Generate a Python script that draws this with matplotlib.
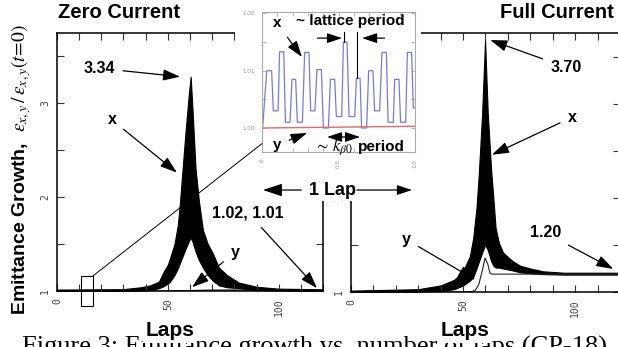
import matplotlib.pyplot as plt
from matplotlib.patches import Rectangle, ConnectionPatch
from matplotlib.ticker import MultipleLocator

plt.rcParams['font.family'] = ['Liberation Sans', 'DejaVu Sans']
plt.rcParams['mathtext.fontset'] = 'stix'

# ---- data ----
# zero current: envelope of the x emittance (fast lattice oscillation) + y emittance
zc_laps = [0, 30, 38, 42, 46, 48, 50, 51, 53, 54.5, 55.5, 56.5, 58, 59.5, 60.3,
           61.2, 62.5, 64, 65.8, 68, 70.3, 73, 76.6, 82, 90, 100, 120]
zc_x_hi = [1.015, 1.02, 1.04, 1.06, 1.10, 1.2, 1.28, 1.35, 1.5, 1.7, 1.95, 2.25, 2.7, 3.1, 3.28,
           2.9, 2.3, 1.96, 1.65, 1.5, 1.4, 1.25, 1.17, 1.09, 1.045, 1.025, 1.018]
zc_x_lo = [1.0, 1.0, 1.004, 1.01, 1.03, 1.05, 1.08, 1.1, 1.17, 1.24, 1.3, 1.36, 1.45, 1.53, 1.57,
           1.52, 1.42, 1.33, 1.25, 1.17, 1.11, 1.06, 1.04, 1.03, 1.01, 1.005, 1.0]
zc_y_laps = [0, 50, 60, 70, 120]
zc_y = [1.0, 1.0, 1.005, 1.01, 1.01]

# full current
fc_laps = [0, 30, 40, 46, 50, 53, 54.5, 56, 57, 58.5, 59.8, 61, 62.5, 63.5, 64.5,
           66, 67.8, 72, 75.4, 80, 85.7, 95, 120]
fc_x_hi = [1.015, 1.03, 1.07, 1.13, 1.22, 1.38, 1.57, 1.9, 2.25, 2.9, 3.68, 2.9, 2.3, 2.0, 1.68,
           1.52, 1.42, 1.33, 1.28, 1.25, 1.22, 1.205, 1.205]
fc_x_lo = [1.0, 1.004, 1.01, 1.03, 1.07, 1.12, 1.16, 1.25, 1.32, 1.42, 1.5, 1.45, 1.33, 1.28, 1.26,
           1.26, 1.25, 1.23, 1.21, 1.2, 1.19, 1.185, 1.185]
fc_y_laps = [0, 50, 54, 55.5, 57, 58.5, 59.8, 61, 62, 63, 70, 120]
fc_y = [1.0, 1.0, 1.005, 1.02, 1.08, 1.22, 1.36, 1.3, 1.2, 1.19, 1.19, 1.19]

# inset: first lap, x emittance (blue) and y emittance (red)
lap1_t = [0.0, 0.004, 0.031, 0.063, 0.074, 0.105, 0.115, 0.142, 0.153, 0.183,
          0.196, 0.220, 0.231, 0.264, 0.279, 0.307, 0.318, 0.346, 0.359, 0.388,
          0.401, 0.434, 0.447, 0.475, 0.486, 0.521, 0.532, 0.556, 0.569, 0.606,
          0.617, 0.641, 0.651, 0.684, 0.697, 0.725, 0.736, 0.769, 0.784, 0.813,
          0.824, 0.858, 0.867, 0.895, 0.906, 0.939, 0.950, 0.978, 0.989, 1.0]
lap1_x = [1.0000, 1.0000, 1.0100, 1.0100, 1.0030, 1.0030, 1.0133, 1.0133, 1.0010, 1.0010,
          1.0085, 1.0085, 1.0010, 1.0010, 1.0132, 1.0132, 1.0030, 1.0030, 1.0102, 1.0102,
          1.0000, 1.0000, 1.0085, 1.0085, 1.0020, 1.0020, 1.0150, 1.0150, 1.0020, 1.0020,
          1.0087, 1.0087, 1.0000, 1.0000, 1.0100, 1.0100, 1.0030, 1.0030, 1.0132, 1.0132,
          1.0010, 1.0010, 1.0085, 1.0085, 1.0010, 1.0010, 1.0132, 1.0132, 1.0035, 1.0035]
lap1_y_t = [0.0, 1.0]
lap1_y = [1.0, 1.0003]

W, H = 618, 347
fig = plt.figure(figsize=(W / 100, H / 100), dpi=100)


def px_box(x0, y0, x1, y1):
    # pixel box (origin top-left) -> figure fraction rect
    return [x0 / W, 1 - y1 / H, (x1 - x0) / W, (y1 - y0) / H]


axL = fig.add_axes(px_box(57, 33, 323, 291))
axR = fig.add_axes(px_box(351, 33, 620, 292))
axI = fig.add_axes(px_box(262, 12, 415, 152))

for ax, ytop in ((axL, 3.745), (axR, 3.755)):
    ax.set_xlim(0, 120)
    ax.set_ylim(1, ytop)
    ax.xaxis.set_minor_locator(MultipleLocator(10))
    ax.yaxis.set_minor_locator(MultipleLocator(0.5))
    ax.tick_params(which='both', direction='in', top=True, right=True,
                   length=5, width=0.8, color='#333333')
    ax.tick_params(labelsize=7, labelcolor='#444444', pad=5)
    ax.set_xticks([0, 50, 100])
    ax.set_xticklabels(['0', '50', '100'], rotation=90, family='DejaVu Sans Mono')
    ax.set_yticks([1, 2, 3])
    ax.set_yticklabels(['1', '2', '3'], rotation=90, va='center', family='DejaVu Sans Mono')
    for s in ax.spines.values():
        s.set_linewidth(1.1)

axL.fill_between(zc_laps, zc_x_lo, zc_x_hi, color='black', lw=0.8)
axL.plot(zc_y_laps, zc_y, color='black', lw=0.8)
axR.fill_between(fc_laps, fc_x_lo, fc_x_hi, color='black', lw=0.8)
axR.plot(fc_y_laps, fc_y, color='#222222', lw=0.8)

# white area behind the inset
fig.add_artist(Rectangle((235 / W, 1 - 201 / H), 186 / W, 201 / H,
                         transform=fig.transFigure, facecolor='white',
                         edgecolor='none', zorder=1))
axI.set_zorder(2)

axI.plot(lap1_t, lap1_x, color='#7a7ad8', lw=0.9)
axI.plot(lap1_y_t, lap1_y, color='#e06a6a', lw=1.0)
axI.set_xlim(0, 1)
axI.set_ylim(0.99581, 1.02026)
axI.set_xticks([0, 0.5, 1.0])
axI.set_xticklabels(['0', '0.5', '1.0'], rotation=90)
axI.set_yticks([1.00, 1.01, 1.02])
axI.set_yticklabels(['1.00', '1.01', '1.02'])
axI.xaxis.set_minor_locator(MultipleLocator(0.1))
axI.yaxis.set_minor_locator(MultipleLocator(0.005))
axI.tick_params(which='both', direction='in', top=True, right=True,
                length=3, width=0.6, color='#aaaaaa', labelsize=4.5,
                labelcolor='#999999', pad=5)
for s in axI.spines.values():
    s.set_color('#aaaaaa')
    s.set_linewidth(0.8)

# ---- annotations ----
bold = dict(fontsize=11.5, fontweight='bold')
arr = dict(arrowstyle='-|>,head_length=0.9,head_width=0.3', color='black',
           lw=0.9, shrinkA=4, shrinkB=0)

axL.annotate('3.34', xy=(55.5, 3.28), xytext=(18.9, 3.37), ha='center', va='center',
             arrowprops=arr, **bold)
axL.annotate('x', xy=(54.1, 2.26), xytext=(24.8, 2.82), ha='center', va='center',
             arrowprops=arr, **bold)
axL.annotate('y', xy=(60.9, 1.04), xytext=(80.3, 1.41), ha='center', va='center',
             arrowprops=arr, **bold)
axL.annotate('1.02, 1.01', xy=(117.3, 1.03), xytext=(86.2, 1.83), ha='center', va='center',
             arrowprops=arr, **bold)
axL.add_patch(Rectangle((10.8, 0.84), 5.4, 0.32, fill=False, ec='black', lw=0.8,
                        clip_on=False))
con = ConnectionPatch(xyA=(16.2, 1.16), coordsA=axL.transData,
                      xyB=(0.0, 0.06), coordsB=axI.transAxes,
                      color='black', lw=0.7, zorder=3)
fig.add_artist(con)

axR.annotate('3.70', xy=(62.1, 3.68), xytext=(96, 3.39), ha='center', va='center',
             arrowprops=arr, **bold)
axR.annotate('x', xy=(62.9, 2.46), xytext=(98.7, 2.86), ha='center', va='center',
             arrowprops=arr, **bold)
axR.annotate('1.20', xy=(117, 1.245), xytext=(86.6, 1.63), ha='center', va='center',
             arrowprops=arr, **bold)
axR.annotate('y', xy=(55.4, 1.13), xytext=(24.6, 1.56), ha='center', va='center',
             arrowprops=arr, **bold)

ibold = dict(fontsize=11, fontweight='bold', annotation_clip=False)
axI.annotate('x', xy=(0.261, 1.0124), xytext=(0.098, 1.0183), ha='center', va='center',
             arrowprops=arr, **ibold)
axI.text(0.575, 1.0187, '~ lattice period', ha='center', va='center',
         fontsize=11, fontweight='bold')
axI.annotate('', xy=(0.523, 1.0157), xytext=(0.327, 1.0157), arrowprops=arr)
axI.annotate('', xy=(0.654, 1.0157), xytext=(0.837, 1.0157), arrowprops=arr)
axI.plot([0.536, 0.536], [1.0168, 1.0150], color='black', lw=0.8)
axI.plot([0.621, 0.621], [1.0168, 1.0087], color='black', lw=0.8)
axI.annotate('y', xy=(0.294, 0.99913), xytext=(0.098, 0.99703), ha='center', va='center',
             arrowprops=arr, **ibold)
axI.annotate('', xy=(0.425, 0.99843), xytext=(0.641, 0.99843),
             arrowprops=dict(arrowstyle='<|-|>,head_length=0.9,head_width=0.3',
                             color='black', lw=0.9, shrinkA=0, shrinkB=0))
axI.text(0.464, 0.99668, r'$\sim\,k_{\beta0}$', ha='center', va='center', fontsize=12)
axI.text(0.778, 0.99668, 'period', ha='center', va='center', fontsize=11, fontweight='bold')
axI.annotate('1 Lap', xy=(0.0065, 0.98917), xytext=(0.464, 0.98917), ha='center',
             va='center', arrowprops=arr, fontsize=13, fontweight='bold', annotation_clip=False)
axI.annotate('', xy=(0.98, 0.98917), xytext=(0.62, 0.98917), arrowprops=dict(arr, shrinkA=0),
             annotation_clip=False)

# titles / labels
fig.text(58 / W, 1 - 13 / H, 'Zero Current', fontsize=14.5, fontweight='bold',
         ha='left', va='center')
fig.text(500 / W, 1 - 13 / H, 'Full Current', fontsize=14.5, fontweight='bold',
         ha='left', va='center')
lap_box = dict(facecolor='white', edgecolor='none', pad=1.5)
fig.text(170 / W, 1 - 331 / H, 'Laps', fontsize=15, fontweight='bold', ha='center',
         va='center', bbox=lap_box, zorder=5)
fig.text(465 / W, 1 - 331 / H, 'Laps', fontsize=15, fontweight='bold', ha='center',
         va='center', bbox=lap_box, zorder=5)
fig.text(21 / W, 1 - 170 / H,
         r'Emittance Growth,  $\varepsilon_{x,y}\,/\,\varepsilon_{x,y}(t\!=\!0)$',
         rotation=90, fontsize=14, fontweight='bold', ha='center', va='center')
fig.text(22 / W, 1 - 354 / H, 'Figure 3: Emittance growth vs. number of laps (CP-18)',
         fontsize=19, family='Liberation Serif', ha='left', va='baseline', zorder=-1)

fig.savefig('out.png', dpi=100)
